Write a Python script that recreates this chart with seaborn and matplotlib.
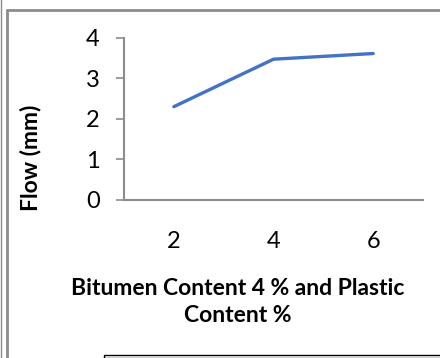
import matplotlib
matplotlib.use("Agg")
import matplotlib.pyplot as plt
import seaborn as sns
import pandas as pd
from matplotlib.patches import Rectangle
from matplotlib.lines import Line2D

# Flow versus plastic content at 4 % bitumen
plastic_content = ["2", "4", "6"]
flow_mm = [2.30, 3.47, 3.61]
y_ticks = [0, 1, 2, 3, 4]

df = pd.DataFrame({"Plastic Content": plastic_content, "Flow": flow_mm})

sns.set_theme(style="white")
plt.rcParams["font.family"] = ["Lato", "DejaVu Sans"]

W, H = 440, 358
fig = plt.figure(figsize=(W / 100, H / 100), dpi=100)
fig.patch.set_facecolor("white")

ax_l, ax_r, ax_b, ax_t = 124, 423, 200, 37.7
ax = fig.add_axes([ax_l / W, 1 - ax_b / H, (ax_r - ax_l) / W, (ax_b - ax_t) / H])

sns.lineplot(data=df, x="Plastic Content", y="Flow", ax=ax,
             color="#4472C4", linewidth=2.4, sort=False)

ax.set_xlim(-0.5, 2.5)
ax.set_ylim(0, 4)
ax.set_yticks(y_ticks)
ax.set_yticklabels([str(v) for v in y_ticks])

axis_col = "#8c8c8c"
for side in ["top", "right"]:
    ax.spines[side].set_visible(False)
for side in ["left", "bottom"]:
    ax.spines[side].set_color(axis_col)
    ax.spines[side].set_linewidth(1.5)

ax.tick_params(axis="y", which="major", direction="out", length=5.5, width=1.2,
               color=axis_col, pad=12, labelsize=17, labelcolor="black", left=True)
ax.tick_params(axis="x", which="major", length=0, pad=22, labelsize=17,
               labelcolor="black")
ax.set_xlabel("")
ax.set_ylabel("Flow (mm)", fontsize=16.5, fontweight="bold", color="black", labelpad=0)
ax.yaxis.set_label_coords((41 - ax_l) / (ax_r - ax_l), (ax_b - 158) / (ax_b - ax_t))

fig.text(238 / W, 1 - 302 / H, "Bitumen Content 4 % and Plastic\nContent %",
         ha="center", va="center", fontsize=16.5, fontweight="bold",
         color="black", linespacing=1.4)

# chart border and surrounding frame lines
fig.add_artist(Line2D([0.6 / W, 0.6 / W], [0, 1], transform=fig.transFigure,
                      color=axis_col, linewidth=1.0))
fig.add_artist(Line2D([6.7 / W, 6.7 / W], [0, 1 - 10 / H], transform=fig.transFigure,
                      color=axis_col, linewidth=2.0))
fig.add_artist(Line2D([6.7 / W, 1], [1 - 10 / H, 1 - 10 / H], transform=fig.transFigure,
                      color=axis_col, linewidth=2.0))
fig.add_artist(Rectangle((103.5 / W, 0), 1, 1 - 354.5 / H, transform=fig.transFigure,
                         fill=False, edgecolor="black", linewidth=1.0))

fig.savefig("out.png", dpi=100, facecolor="white")
